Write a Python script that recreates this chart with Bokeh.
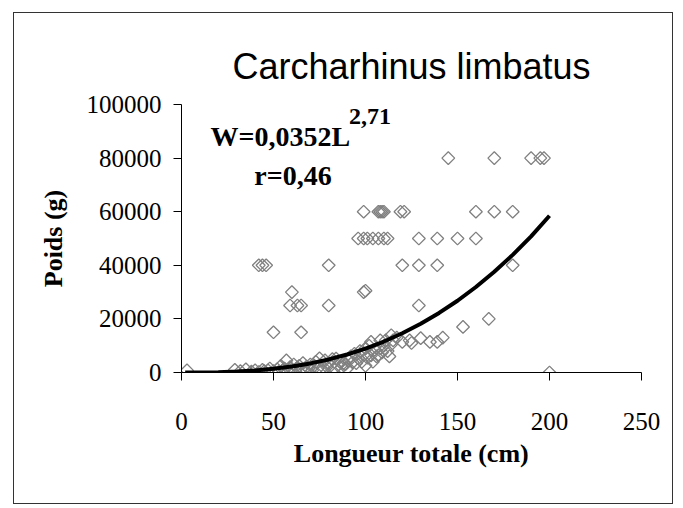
import numpy as np
from bokeh.plotting import figure
from bokeh.models import Range1d, FixedTicker, Label, BasicTickFormatter
from bokeh.embed import file_html
from bokeh.resources import INLINE

# ---- data ----
title_text = "Carcharhinus limbatus"
x_label = "Longueur totale (cm)"
y_label = "Poids (g)"
x_ticks = [0, 50, 100, 150, 200, 250]
y_ticks = [0, 20000, 40000, 60000, 80000, 100000]

# isolated / upper observations
upper_L = [3, 42, 44, 46, 50, 65, 60, 59, 63, 65, 80, 80, 99, 100, 129,
           99, 107, 108, 109, 110, 119, 121, 160, 170, 180,
           145, 170, 190, 195, 197,
           96, 99, 101, 104, 107, 110, 112, 129, 139, 150, 160,
           120, 129, 139, 180,
           153, 167, 200]
upper_W = [800, 40000, 40000, 40000, 15000, 15000, 30000, 25000, 25000, 25000, 25000, 40000, 30000, 30500, 25000,
           60000, 60000, 60000, 60000, 60000, 60000, 60000, 60000, 60000, 60000,
           80000, 80000, 80000, 80000, 80000,
           50000, 50000, 50000, 50000, 50000, 50000, 50000, 50000, 50000, 50000, 50000,
           40000, 40000, 40000, 40000,
           17000, 20000, 0]

# dense cluster of small sharks
cluster_L = [29, 32, 35, 38, 40, 42, 44, 45, 47, 48, 50,
             52, 53, 54, 55, 56, 57, 58, 59, 60, 61, 62, 63, 64, 65, 66, 67, 68, 69, 70,
             71, 72, 73, 74, 75, 76, 77, 78, 79, 80, 81, 82, 83, 84, 85, 86, 87, 88, 89, 90,
             91, 92, 93, 94, 95, 96, 97, 98, 99, 100, 100, 101, 102, 103, 104, 105, 106, 107,
             108, 109, 110, 111, 112, 113, 114, 115,
             103, 108, 114, 117, 120, 124, 125, 130, 135, 139, 142]
cluster_W = [1000, 500, 1200, 300, 800, 200, 1000, 500, 800, 1500, 500,
             1200, 300, 2500, 800, 1500, 4500, 300, 2000, 1000, 3000, 500, 1800, 2500, 1200, 3500, 700, 2200, 1500, 3000,
             800, 2500, 4000, 1500, 5300, 500, 2000, 4500, 2100, 3500, 2500, 5000, 1500, 5200, 2700, 4000, 2000, 3500, 3000, 1500,
             4500, 6000, 3800, 7000, 3500, 5300, 8000, 4000, 6500, 2500, 9000, 5500, 10000, 6400, 4000, 8500, 6000, 6400,
             9000, 7500, 10000, 12000, 8000, 6000, 10500, 12000,
             11400, 12000, 13900, 13000, 11400, 12000, 11000, 12800, 11400, 11400, 13000]

# fitted power curve W = 0,0352 L^2,71 as drawn
curve_L = [2, 10, 20, 30, 40, 50, 60, 70, 80, 90, 100, 110, 120, 130, 140, 150, 160, 170, 180, 190, 200]
curve_W = [0, 17, 114, 342, 746, 1366, 2240, 3394, 4873, 6715, 8936, 11563, 14640, 18170, 22220,
           26770, 31900, 37570, 43890, 50810, 58500]

eq_main = "W=0,0352L"
eq_exp = "2,71"
eq_r = "r=0,46"

p = figure(width=660, height=492, output_backend="svg", toolbar_location=None,
           x_range=Range1d(0, 250), y_range=Range1d(0, 100000),
           min_border_left=167, min_border_right=33, min_border_top=91, min_border_bottom=133)
p.margin = (12, 0, 0, 13)
p.styles = {"border": "1px solid #333333"}

p.outline_line_color = None
p.xgrid.grid_line_color = None
p.ygrid.grid_line_color = None
p.background_fill_color = "white"
p.border_fill_color = "white"

p.title.text = title_text
p.title.align = "center"
p.title.vertical_align = "top"
p.title.text_font = "Liberation Sans"
p.title.text_font_size = "36px"
p.title.text_font_style = "normal"
p.title.text_color = "black"
p.title.standoff = 32

for ax in (p.xaxis[0], p.yaxis[0]):
    ax.axis_line_color = "black"
    ax.major_tick_line_color = "black"
    ax.major_tick_in = 0
    ax.major_tick_out = 8
    ax.minor_tick_line_color = None
    ax.major_label_text_font = "Liberation Serif"
    ax.major_label_text_font_size = "25px"
    ax.major_label_text_color = "black"
    ax.axis_label_text_font = "Liberation Serif"
    ax.axis_label_text_font_size = "26px"
    ax.axis_label_text_font_style = "bold"
    ax.axis_label_text_color = "black"

p.xaxis.ticker = FixedTicker(ticks=x_ticks)
p.yaxis.ticker = FixedTicker(ticks=y_ticks)
p.yaxis.formatter = BasicTickFormatter(use_scientific=False)
p.xaxis.axis_label = x_label
p.yaxis.axis_label = y_label
p.xaxis.major_label_standoff = 32
p.yaxis.major_label_standoff = 12
p.xaxis.axis_label_standoff = 6
p.yaxis.axis_label_standoff = 16

p.scatter(upper_L + cluster_L, upper_W + cluster_W, marker="square", angle=np.pi / 4,
          size=9, line_color="#808080", line_width=1.3, fill_color=None)
p.line(curve_L, curve_W, line_color="black", line_width=4)

p.add_layout(Label(x=15.8, y=88200, text=eq_main, text_font="Liberation Serif", text_font_size="28px",
                   text_font_style="bold", text_baseline="alphabetic", text_align="left", text_color="black"))
p.add_layout(Label(x=91, y=95600, text=eq_exp, text_font="Liberation Serif", text_font_size="24px",
                   text_font_style="bold", text_baseline="alphabetic", text_align="left", text_color="black"))
p.add_layout(Label(x=60.6, y=73600, text=eq_r, text_font="Liberation Serif", text_font_size="28px",
                   text_font_style="bold", text_baseline="alphabetic", text_align="center", text_color="black"))

open("out.html", "w").write(file_html(p, INLINE))
